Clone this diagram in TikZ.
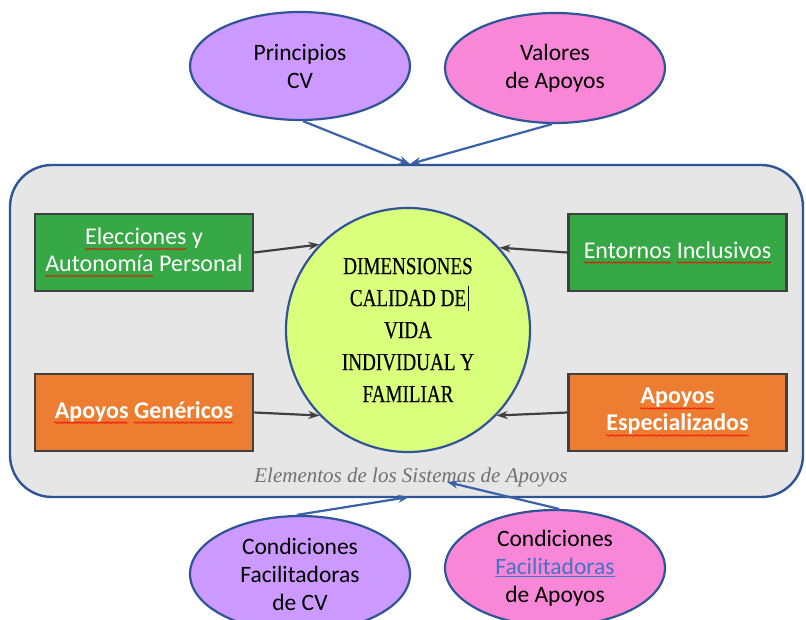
\documentclass[tikz,border=0pt]{standalone}
\usepackage{fontspec}
\setmainfont{Carlito}
\newfontfamily\dimfont[FakeStretch=0.78,FakeBold=0.4]{Liberation Serif}
\newfontfamily\labfont{Liberation Serif}
\usetikzlibrary{shapes.geometric,arrows.meta,decorations.pathmorphing}
\definecolor{bordblue}{HTML}{2F5597}
\definecolor{arrblue}{HTML}{3A62A8}
\definecolor{purp}{HTML}{CC99FF}
\definecolor{pinkf}{HTML}{F987D7}
\definecolor{greenf}{HTML}{36A845}
\definecolor{orangef}{HTML}{ED7D31}
\definecolor{limef}{HTML}{DAFF7C}
\definecolor{grayf}{HTML}{E7E6E6}
\definecolor{boxbord}{HTML}{404040}
\definecolor{labgray}{HTML}{707070}
\definecolor{linkblue}{HTML}{4472C4}
\newsavebox\sqbox
\newcommand\sqw[1]{\sbox\sqbox{#1}\usebox\sqbox\llap{\tikz[baseline=0pt]{\path (0pt,0pt); \draw[red,line width=0.6pt,decorate,decoration={snake,amplitude=0.8pt,segment length=3pt}] (0pt,-4.5pt) -- (\the\wd\sqbox,-4.5pt);}}}
\tikzset{
  oval/.style={ellipse, draw=bordblue, line width=2.2pt, minimum width=220pt, minimum height=108pt, inner sep=0pt, align=center, font=\fontsize{23.5}{28}\selectfont},
  gbox/.style={rectangle, draw=boxbord, line width=2.6pt, fill=greenf, minimum width=218pt, minimum height=77pt, align=center, text=white, font=\fontsize{24}{27}\selectfont},
  obox/.style={gbox, fill=orangef, font=\fontsize{24}{27}\selectfont\bfseries},
  barr/.style={-{Stealth[length=11pt,width=8pt]}, draw=arrblue, line width=2.2pt},
  garr/.style={-{Stealth[length=11pt,width=8pt]}, draw=boxbord, line width=2.2pt}
}
\begin{document}
\begin{tikzpicture}[x=1pt,y=-1pt]
\useasboundingbox (0,0) rectangle (806,620);
\node[rectangle, rounded corners=42pt, draw=bordblue, line width=2.4pt, fill=grayf, minimum width=793pt, minimum height=332pt] (frame) at (406.5,331) {};
\node[oval, fill=purp] (princ) at (300,66) {Principios\\CV};
\node[oval, fill=pinkf, minimum height=110pt] (valor) at (555,68) {Valores\\de Apoyos};
\node[oval, fill=purp, minimum height=116pt] (condcv) at (300,574) {Condiciones\\Facilitadoras\\de CV};
\node[oval, fill=pinkf, minimum height=116pt] (condap) at (555,568) {Condiciones\\{\color{linkblue}\underline{Facilitadoras}}\\de Apoyos};
\node[circle, draw=bordblue, line width=2.2pt, fill=limef, minimum size=244pt, inner sep=0pt, align=center, font=\dimfont\fontsize{24.5}{32}\selectfont] (dim) at (408,330) {DIMENSIONES\\CALIDAD DE\rlap{\hspace{2pt}\rule[-5pt]{0.7pt}{25pt}}\\VIDA\\INDIVIDUAL Y\\FAMILIAR};
\node[gbox] (elec) at (144,252.5) {\sqw{Elecciones} y\\\sqw{Autonomía} Personal};
\node[gbox] (ento) at (677.5,252.5) {\sqw{Entornos} \sqw{Inclusivos}};
\node[obox] (gene) at (144,412.5) {\sqw{Apoyos} \sqw{Genéricos}};
\node[obox] (espe) at (677.5,412.5) {\sqw{Apoyos}\\\sqw{Especializados}};
\node[font=\labfont\itshape\fontsize{21}{24}\selectfont, text=labgray] (lab) at (411,477) {Elementos de los Sistemas de Apoyos};
\coordinate (topin) at (410,164);
\coordinate (botin) at (409,497);
\coordinate (labin) at (447,482);
\draw[barr] (princ.-87) -- (topin);
\draw[barr] (valor.-93) -- (topin);
\draw[barr] (condcv.93) -- (botin);
\draw[barr] (condap.86) -- (labin);
\draw[garr] (elec.east) -- (dim.136);
\draw[garr] (ento.west) -- (dim.42);
\draw[garr] (gene.east) -- (dim.224);
\draw[garr] (espe.west) -- (dim.316);
\end{tikzpicture}
\end{document}
